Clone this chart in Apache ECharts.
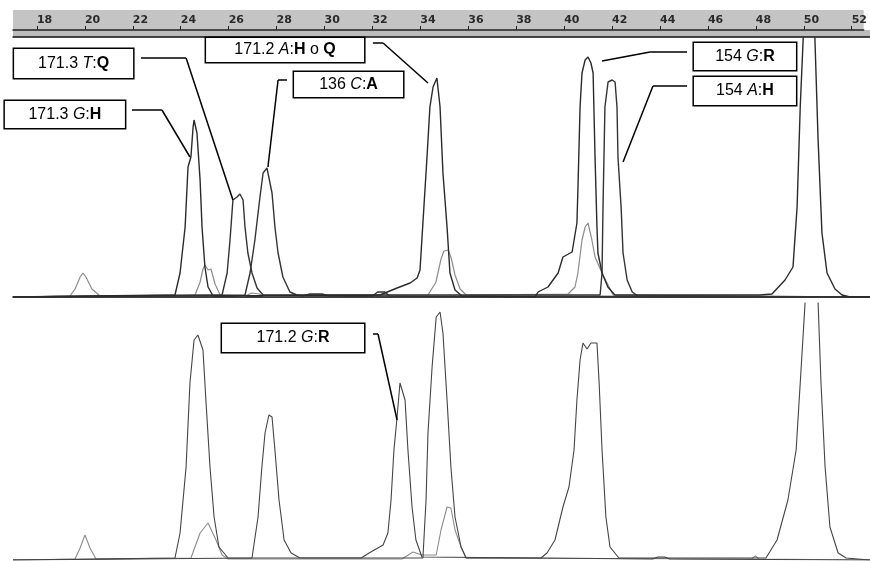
<!DOCTYPE html>
<html>
<head>
<meta charset="utf-8">
<script src="https://cdn.jsdelivr.net/npm/echarts@6/dist/echarts.min.js"></script>
<style>html,body{margin:0;padding:0;background:#fff}#c{width:870px;height:561px}</style>
</head>
<body>
<div id="c"></div>
<script>
// ruler tick labels (fragment size)
var rulerTicks = [18,20,22,24,26,28,30,32,34,36,38,40,42,44,46,48,50,52];

// upper electropherogram traces: [size, signal]
var topTraceA = [[17,0],[23.71,2],[23.92,24],[24.13,70],[24.25,130],[24.37,140],[24.46,170],[24.50,177],[24.62,164],[24.75,117],[24.83,70],[24.95,30],[25.08,10],[25.29,1],
  [32.2,2],[32.91,9],[33.45,14],[33.74,19],[33.86,27],[33.98,74],[34.15,140],[34.27,190],[34.40,210],[34.56,219],[34.69,190],[34.81,124],[34.98,70],[35.10,24],[35.31,7],[35.60,1],
  [38.62,0],[38.75,5],[39.16,10],[39.58,24],[39.78,40],[40.16,45],[40.36,74],[40.40,107],[40.49,190],[40.57,224],[40.70,237],[40.82,240],[40.94,234],[41.03,224],[41.11,140],[41.19,70],[41.23,44],[41.40,24],[41.64,10],[41.93,2],
  [47.94,2],[48.44,3],[48.98,17],[49.31,30],[49.48,90],[49.61,190],[49.73,257],[50.02,420],[50.22,257],[50.35,157],[50.51,64],[50.72,24],[51.05,8],[51.34,2],[51.67,0],[52.5,0]];
var topTraceB = [[17,0],[25.66,2],[25.87,24],[25.99,57],[26.11,97],[26.28,100],[26.40,103],[26.53,97],[26.61,70],[26.73,44],[26.90,24],[27.11,9],[27.36,2],
  [41.32,2],[41.40,24],[41.44,90],[41.52,190],[41.65,215],[41.82,217],[41.94,215],[42.02,190],[42.06,140],[42.19,90],[42.27,44],[42.44,17],[42.65,5],[42.89,1],[52.5,0]];
var topTraceC = [[17,0],[26.61,2],[26.82,24],[27.02,57],[27.23,100],[27.36,124],[27.52,129],[27.60,127],[27.73,104],[27.85,70],[27.98,44],[28.18,20],[28.47,5],[28.76,2],
  [29.0,1],[29.3,3],[29.8,3],[30.1,1],[31.9,1],[32.1,5],[32.4,5],[32.6,1],[52.5,0]];
var topTraceD = [[17,0],[19.36,1],[19.57,8],[19.78,20],[19.90,24],[20.02,20],[20.27,8],[20.60,1],
  [24.54,2],[24.75,15],[24.87,28],[24.95,32],[25.08,27],[25.20,28],[25.37,13],[25.58,2],
  [26.6,1],[26.9,4],[27.2,3],[27.4,1],
  [34.19,2],[34.52,15],[34.73,38],[34.85,46],[35.02,47],[35.14,40],[35.31,22],[35.52,8],[35.77,2],
  [39.99,3],[40.28,10],[40.40,24],[40.57,57],[40.70,70],[40.82,74],[40.98,57],[41.11,40],[41.40,24],[41.61,14],[41.86,2],[52.5,0]];

// lower electropherogram traces
var botTraceA = [[17,0],[23.71,2],[23.92,27],[24.17,93],[24.33,177],[24.50,220],[24.66,225],[24.87,210],[24.99,160],[25.16,93],[25.33,43],[25.53,13],[25.91,2],
  [33.98,2],[34.11,60],[34.19,127],[34.36,193],[34.53,243],[34.69,248],[34.81,227],[34.98,160],[35.14,93],[35.31,43],[35.56,13],[35.77,2],
  [38.87,2],[39.12,7],[39.45,20],[39.78,53],[40.03,73],[40.24,110],[40.36,160],[40.49,200],[40.61,217],[40.78,211],[40.94,217],[41.19,217],[41.28,177],[41.40,110],[41.56,43],[41.73,13],[42.10,2],
  [48.19,2],[48.65,20],[49.10,60],[49.44,110],[49.61,177],[49.81,257],[50.06,420],[50.35,257],[50.47,177],[50.64,93],[50.84,33],[51.18,7],[51.51,2],[52.5,0]];
var botTraceB = [[17,0],[26.90,2],[27.15,43],[27.31,93],[27.44,127],[27.60,145],[27.73,143],[27.85,110],[28.02,60],[28.23,20],[28.52,7],[28.89,2],
  [31.42,2],[31.75,7],[32.33,15],[32.53,27],[32.66,60],[32.78,110],[32.91,143],[33.03,177],[33.11,178],[33.24,160],[33.36,110],[33.53,53],[33.69,20],[33.94,3],
  [43.5,1],[43.7,3],[44.0,3],[44.2,1],[52.5,0]];
var botTraceC = [[17,0],[19.57,1],[19.78,12],[19.98,25],[20.19,12],[20.44,1],
  [24.37,2],[24.75,27],[25.08,37],[25.41,20],[25.66,5],[25.91,1],
  [33.11,1],[33.57,8],[33.94,5],[34.53,5],[34.73,30],[34.98,53],[35.14,52],[35.31,30],[35.56,13],[35.77,2],
  [47.6,1],[47.75,4],[47.9,1],[52.5,0]];

// annotations: label parts, box centre [size, signal], leader polyline
var annoTopText = [
  [['n','171.3 '],['i','T'],['n',':'],['b','Q']],
  [['n','171.3 '],['i','G'],['n',':'],['b','H']],
  [['n','171.2 '],['i','A'],['n',':'],['b','H'],['n',' o '],['b','Q']],
  [['n','136 '],['i','C'],['n',':'],['b','A']],
  [['n','154 '],['i','G'],['n',':'],['b','R']],
  [['n','154 '],['i','A'],['n',':'],['b','H']]
];
var annoTopPos = [[19.51,233.5],[19.15,182.5],[28.27,247],[30.90,212.5],[47.32,240.5],[47.32,206]];
var annoTopSize = [[121,31],[122,29],[160,26],[111,27],[104,29],[104,30]];
var annoTopLeader = [
  [[22.30,239],[24.17,239],[26.11,97]],
  [[21.93,187],[23.17,187],[24.33,140]],
  [[31.91,254],[32.33,254],[34.19,214]],
  [[28.35,217],[27.98,217],[27.56,130]],
  [[44.92,245],[43.39,245],[41.40,236]],
  [[44.92,211],[43.51,211],[42.27,135]]
];
var annoBotText = [[['n','171.2 '],['i','G'],['n',':'],['b','R']]];
var annoBotPos = [[28.60,222]];
var annoBotSize = [[144,30]];
var annoBotLeader = [[[31.91,226],[32.12,226],[32.91,140]]];

var FONT = 'Liberation Sans, Arial, sans-serif';
var FS = 16;
var rich = {
  n: {fontFamily: FONT, fontSize: FS, color: '#000', align: 'center'},
  i: {fontFamily: FONT, fontSize: FS, color: '#000', fontStyle: 'italic', align: 'center'},
  b: {fontFamily: FONT, fontSize: FS, color: '#000', fontWeight: 'bold', align: 'center'}
};
function richStr(parts){ return parts.map(function(p){ return '{' + p[0] + '|' + p[1] + '}'; }).join(''); }
function markPts(texts, pos, sizes){
  return {
    symbol: 'circle', symbolSize: 0, silent: true, animation: false,
    itemStyle: {color: 'rgba(0,0,0,0)'},
    data: texts.map(function(t, k){
      var w = sizes[k][0], h = sizes[k][1];
      return {coord: pos[k], label: {
        show: true, position: 'inside', formatter: richStr(t), rich: rich,
        backgroundColor: '#fff', borderColor: '#000', borderWidth: 1.5, padding: 0,
        width: w - 2, height: h - 2, lineHeight: h - 2, align: 'center', verticalAlign: 'middle'
      }};
    })
  };
}
function markLns(leaders){
  var d = [];
  leaders.forEach(function(L){
    for (var k = 0; k < L.length - 1; k++) d.push([{coord: L[k]}, {coord: L[k+1]}]);
  });
  return {symbol: ['none','none'], silent: true, animation: false, label: {show: false},
    lineStyle: {color: '#000', width: 1.5, type: 'solid'}, emphasis: {disabled: true}, data: d};
}

var X0 = 17, X1 = 52.5;
function xa(idx, extra){
  return Object.assign({type: 'value', gridIndex: idx, min: X0, max: X1, show: false, splitLine: {show: false}}, extra || {});
}
function ya(idx, max){ return {type: 'value', gridIndex: idx, min: 0, max: max, show: false, splitLine: {show: false}}; }
function trace(data, xi, color, width, extra){
  return Object.assign({type: 'line', xAxisIndex: xi, yAxisIndex: xi, data: data, symbol: 'none', clip: true,
    silent: true, animation: false, lineStyle: {color: color, width: width}, z: 3}, extra || {});
}

var chart = echarts.init(document.getElementById('c'), null, {renderer: 'canvas'});
chart.setOption({
  backgroundColor: '#fff',
  animation: false,
  grid: [
    {left: 13, right: 0, top: 10, height: 20, show: true, backgroundColor: '#c4c4c4', borderWidth: 0},
    {left: 13, right: 0, top: 30, height: 7, show: true, backgroundColor: '#bcbcbc', borderWidth: 0},
    {left: 13, right: 0, top: 38, height: 259},
    {left: 13, right: 0, top: 303, height: 257}
  ],
  xAxis: [
    xa(0, {show: true, position: 'bottom',
      axisLine: {show: true, lineStyle: {color: '#222', width: 1.5}},
      axisTick: {show: true, inside: true, length: 4, customValues: rulerTicks, lineStyle: {color: '#222', width: 1}},
      axisLabel: {show: true, inside: true, margin: 4, customValues: rulerTicks, align: 'left', color: '#2a2a2a',
        fontFamily: 'DejaVu Sans', fontSize: 11, fontWeight: 'bold', formatter: function(v){ return String(v); }}}),
    xa(1, {show: true, position: 'bottom', axisLine: {show: true, lineStyle: {color: '#111', width: 1.5}},
      axisTick: {show: false}, axisLabel: {show: false}}),
    xa(2, {show: true, position: 'bottom', axisLine: {show: true, onZero: false, lineStyle: {color: '#000', width: 1.5}},
      axisTick: {show: false}, axisLabel: {show: false}}),
    xa(3)
  ],
  yAxis: [ya(0, 1), ya(1, 1), ya(2, 259), ya(3, 257)],
  series: [
    trace(topTraceD, 2, '#8c8c8c', 1.2),
    trace(topTraceC, 2, '#333', 1.4),
    trace(topTraceB, 2, '#333', 1.4),
    trace(topTraceA, 2, '#2a2a2a', 1.4, {markPoint: markPts(annoTopText, annoTopPos, annoTopSize), markLine: markLns(annoTopLeader)}),
    trace(botTraceC, 3, '#8c8c8c', 1.1),
    trace(botTraceB, 3, '#444', 1.1),
    trace(botTraceA, 3, '#444', 1.1, {markPoint: markPts(annoBotText, annoBotPos, annoBotSize), markLine: markLns(annoBotLeader)})
  ]
});
</script>
</body>
</html>
